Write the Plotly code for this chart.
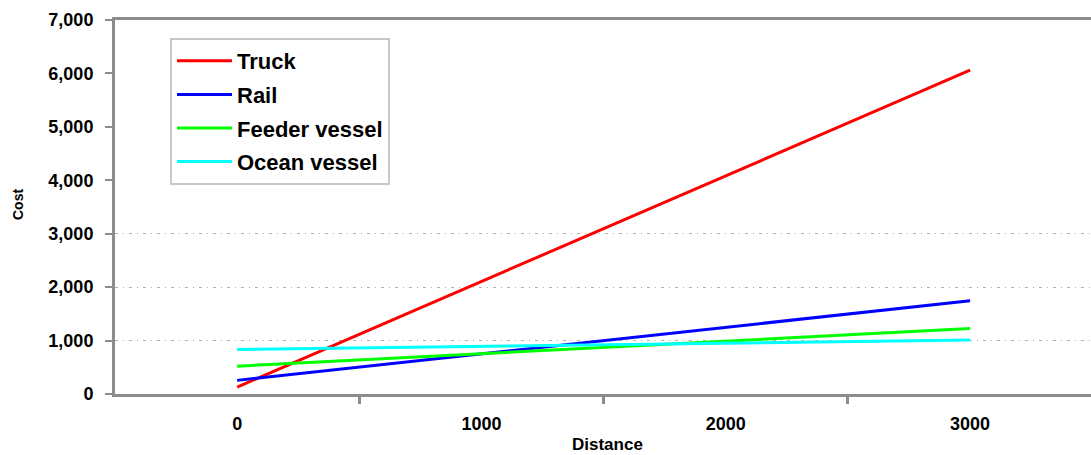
import plotly.graph_objects as go

distance = [0, 1000, 2000, 3000]
truck = [130, 2105, 4085, 6060]
rail = [255, 750, 1250, 1745]
feeder = [520, 755, 990, 1225]
ocean = [835, 890, 950, 1010]

series_names = ["Truck", "Rail", "Feeder vessel", "Ocean vessel"]
series_values = [truck, rail, feeder, ocean]
colors = ["#FF0000", "#0000FF", "#00FF00", "#00FFFF"]

x_tick_vals = [0, 1000, 2000, 3000]
x_tick_text = ["0", "1000", "2000", "3000"]
y_tick_vals = [0, 1000, 2000, 3000, 4000, 5000, 6000, 7000]
y_tick_text = ["0", "1,000", "2,000", "3,000", "4,000", "5,000", "6,000", "7,000"]
grid_vals = [1000, 2000, 3000]

fig = go.Figure()
for i, (name, vals, c) in enumerate(zip(series_names, series_values, colors)):
    fig.add_trace(go.Scatter(x=distance, y=vals, mode="lines", name=name,
                             legendgroup=f"g{i}",
                             line=dict(color=c, width=3)))

font_family = "Liberation Sans, Arial, sans-serif"
W, H = 1091, 455
L, R, T, B = 115, 0, 20, 61

fig.update_layout(
    width=W, height=H,
    margin=dict(l=L, r=R, t=T, b=B),
    paper_bgcolor="white", plot_bgcolor="white",
    font=dict(family=font_family, color="black"),
    showlegend=True,
    legend=dict(x=(170 - L) / (W - L - R), y=(H - B - 38) / (H - B - T),
                xanchor="left", yanchor="top",
                bgcolor="white", bordercolor="#C8C8C8", borderwidth=2,
                font=dict(size=22, family=font_family, color="black", weight="bold"),
                traceorder="grouped", tracegroupgap=2,
                itemwidth=55, entrywidth=180),
    xaxis=dict(range=[-500, 3495], tickmode="array", tickvals=x_tick_vals,
               ticktext=x_tick_text, ticks="", showgrid=False, zeroline=False,
               showline=True, linecolor="#8C8C8C", linewidth=3, mirror=True,
               tickfont=dict(size=18, weight="bold", family=font_family),
               ticklabelstandoff=11,
               minor=dict(tickmode="array", tickvals=[500, 1500, 2500],
                          ticks="outside", ticklen=7, tickwidth=3,
                          tickcolor="#8C8C8C", showgrid=False)),
    yaxis=dict(range=[0, 7000], tickmode="array", tickvals=y_tick_vals,
               ticktext=y_tick_text, ticks="outside", ticklen=7, tickwidth=2,
               tickcolor="#8C8C8C", showgrid=False, zeroline=False,
               showline=True, linecolor="#8C8C8C", linewidth=3,
               tickfont=dict(size=18, weight="bold", family=font_family),
               ticklabelstandoff=8,
               minor=dict(tickmode="array", tickvals=grid_vals, ticks="",
                          showgrid=True, gridcolor="#B0B0B0", gridwidth=1,
                          griddash="3px,5px,1px,5px")),
    annotations=[
        dict(text="Cost", xref="paper", yref="paper",
             x=(18 - L) / (W - L - R), y=(H - B - 205) / (H - B - T),
             xanchor="center", yanchor="middle", textangle=-90, showarrow=False,
             font=dict(size=14, weight="bold", family=font_family)),
        dict(text="Distance", xref="paper", yref="paper",
             x=(607 - L) / (W - L - R), y=(H - B - 444) / (H - B - T),
             xanchor="center", yanchor="middle", showarrow=False,
             font=dict(size=17, weight="bold", family=font_family)),
    ],
)

fig.write_html("out.html")
